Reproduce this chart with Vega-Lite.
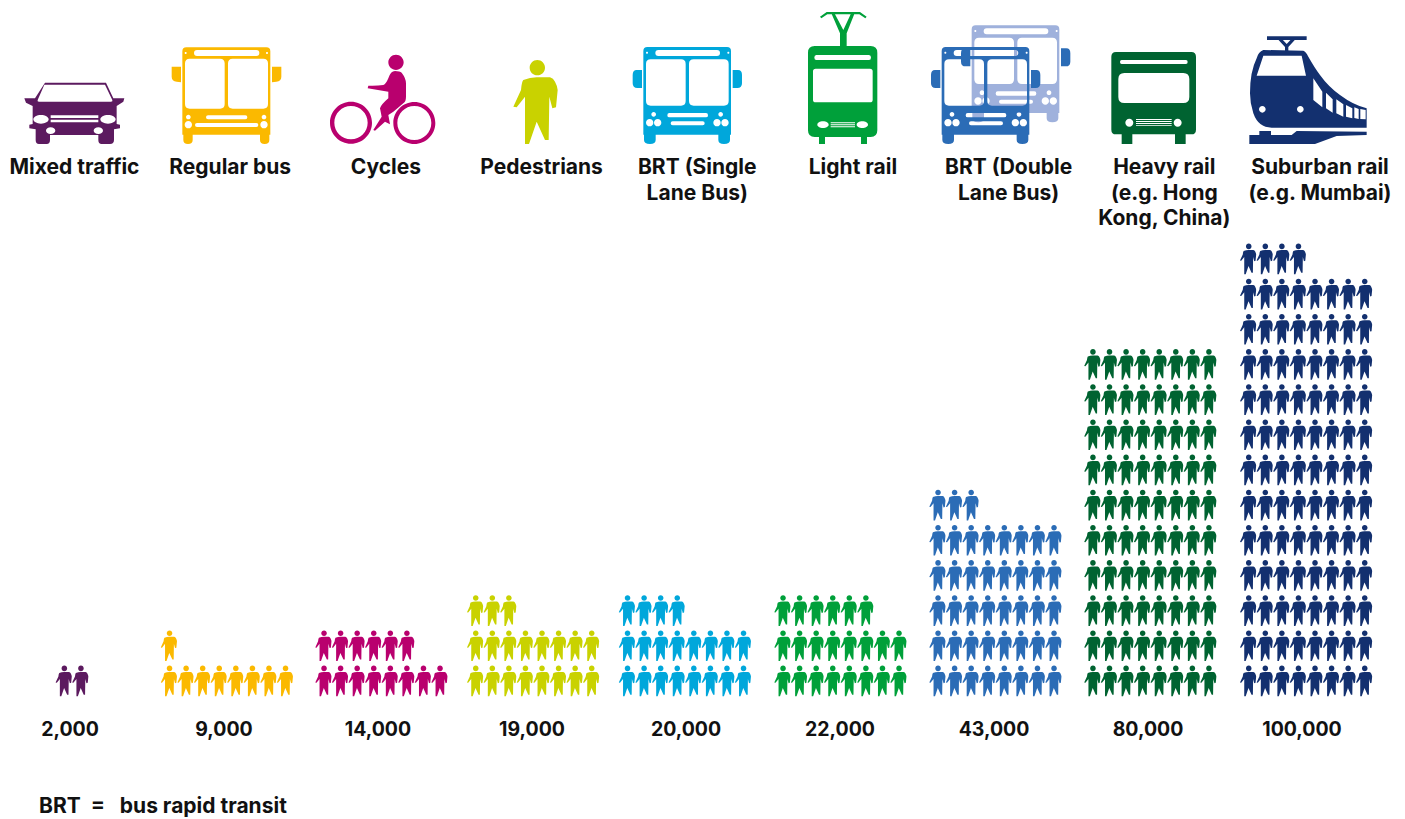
{"$schema":"https://vega.github.io/schema/vega-lite/v6.json","width":1405,"height":819,"autosize":{"type":"fit","contains":"padding"},"padding":0,"background":"white","config":{"view":{"stroke":null}},
"resolve":{"scale":{"x":"independent","color":"independent"}},
"layer":[
{"data":{"values":[
{"g":0,"s":3,"r":0},{"g":0,"s":4,"r":0},
{"g":1,"s":10,"r":0},{"g":1,"s":11,"r":0},{"g":1,"s":12,"r":0},{"g":1,"s":13,"r":0},{"g":1,"s":14,"r":0},{"g":1,"s":15,"r":0},{"g":1,"s":16,"r":0},{"g":1,"s":17,"r":0},{"g":1,"s":10,"r":1},
{"g":2,"s":20,"r":0},{"g":2,"s":21,"r":0},{"g":2,"s":22,"r":0},{"g":2,"s":23,"r":0},{"g":2,"s":24,"r":0},{"g":2,"s":25,"r":0},{"g":2,"s":26,"r":0},{"g":2,"s":27,"r":0},{"g":2,"s":20,"r":1},{"g":2,"s":21,"r":1},{"g":2,"s":22,"r":1},{"g":2,"s":23,"r":1},{"g":2,"s":24,"r":1},{"g":2,"s":25,"r":1},
{"g":3,"s":30,"r":0},{"g":3,"s":31,"r":0},{"g":3,"s":32,"r":0},{"g":3,"s":33,"r":0},{"g":3,"s":34,"r":0},{"g":3,"s":35,"r":0},{"g":3,"s":36,"r":0},{"g":3,"s":37,"r":0},{"g":3,"s":30,"r":1},{"g":3,"s":31,"r":1},{"g":3,"s":32,"r":1},{"g":3,"s":33,"r":1},{"g":3,"s":34,"r":1},{"g":3,"s":35,"r":1},{"g":3,"s":36,"r":1},{"g":3,"s":37,"r":1},{"g":3,"s":30,"r":2},{"g":3,"s":31,"r":2},{"g":3,"s":32,"r":2},
{"g":4,"s":40,"r":0},{"g":4,"s":41,"r":0},{"g":4,"s":42,"r":0},{"g":4,"s":43,"r":0},{"g":4,"s":44,"r":0},{"g":4,"s":45,"r":0},{"g":4,"s":46,"r":0},{"g":4,"s":47,"r":0},{"g":4,"s":40,"r":1},{"g":4,"s":41,"r":1},{"g":4,"s":42,"r":1},{"g":4,"s":43,"r":1},{"g":4,"s":44,"r":1},{"g":4,"s":45,"r":1},{"g":4,"s":46,"r":1},{"g":4,"s":47,"r":1},{"g":4,"s":40,"r":2},{"g":4,"s":41,"r":2},{"g":4,"s":42,"r":2},{"g":4,"s":43,"r":2},
{"g":5,"s":50,"r":0},{"g":5,"s":51,"r":0},{"g":5,"s":52,"r":0},{"g":5,"s":53,"r":0},{"g":5,"s":54,"r":0},{"g":5,"s":55,"r":0},{"g":5,"s":56,"r":0},{"g":5,"s":57,"r":0},{"g":5,"s":50,"r":1},{"g":5,"s":51,"r":1},{"g":5,"s":52,"r":1},{"g":5,"s":53,"r":1},{"g":5,"s":54,"r":1},{"g":5,"s":55,"r":1},{"g":5,"s":56,"r":1},{"g":5,"s":57,"r":1},{"g":5,"s":50,"r":2},{"g":5,"s":51,"r":2},{"g":5,"s":52,"r":2},{"g":5,"s":53,"r":2},{"g":5,"s":54,"r":2},{"g":5,"s":55,"r":2},
{"g":6,"s":60,"r":0},{"g":6,"s":61,"r":0},{"g":6,"s":62,"r":0},{"g":6,"s":63,"r":0},{"g":6,"s":64,"r":0},{"g":6,"s":65,"r":0},{"g":6,"s":66,"r":0},{"g":6,"s":67,"r":0},{"g":6,"s":60,"r":1},{"g":6,"s":61,"r":1},{"g":6,"s":62,"r":1},{"g":6,"s":63,"r":1},{"g":6,"s":64,"r":1},{"g":6,"s":65,"r":1},{"g":6,"s":66,"r":1},{"g":6,"s":67,"r":1},{"g":6,"s":60,"r":2},{"g":6,"s":61,"r":2},{"g":6,"s":62,"r":2},{"g":6,"s":63,"r":2},{"g":6,"s":64,"r":2},{"g":6,"s":65,"r":2},{"g":6,"s":66,"r":2},{"g":6,"s":67,"r":2},{"g":6,"s":60,"r":3},{"g":6,"s":61,"r":3},{"g":6,"s":62,"r":3},{"g":6,"s":63,"r":3},{"g":6,"s":64,"r":3},{"g":6,"s":65,"r":3},{"g":6,"s":66,"r":3},{"g":6,"s":67,"r":3},{"g":6,"s":60,"r":4},{"g":6,"s":61,"r":4},{"g":6,"s":62,"r":4},{"g":6,"s":63,"r":4},{"g":6,"s":64,"r":4},{"g":6,"s":65,"r":4},{"g":6,"s":66,"r":4},{"g":6,"s":67,"r":4},{"g":6,"s":60,"r":5},{"g":6,"s":61,"r":5},{"g":6,"s":62,"r":5},
{"g":7,"s":70,"r":0},{"g":7,"s":71,"r":0},{"g":7,"s":72,"r":0},{"g":7,"s":73,"r":0},{"g":7,"s":74,"r":0},{"g":7,"s":75,"r":0},{"g":7,"s":76,"r":0},{"g":7,"s":77,"r":0},{"g":7,"s":70,"r":1},{"g":7,"s":71,"r":1},{"g":7,"s":72,"r":1},{"g":7,"s":73,"r":1},{"g":7,"s":74,"r":1},{"g":7,"s":75,"r":1},{"g":7,"s":76,"r":1},{"g":7,"s":77,"r":1},{"g":7,"s":70,"r":2},{"g":7,"s":71,"r":2},{"g":7,"s":72,"r":2},{"g":7,"s":73,"r":2},{"g":7,"s":74,"r":2},{"g":7,"s":75,"r":2},{"g":7,"s":76,"r":2},{"g":7,"s":77,"r":2},{"g":7,"s":70,"r":3},{"g":7,"s":71,"r":3},{"g":7,"s":72,"r":3},{"g":7,"s":73,"r":3},{"g":7,"s":74,"r":3},{"g":7,"s":75,"r":3},{"g":7,"s":76,"r":3},{"g":7,"s":77,"r":3},{"g":7,"s":70,"r":4},{"g":7,"s":71,"r":4},{"g":7,"s":72,"r":4},{"g":7,"s":73,"r":4},{"g":7,"s":74,"r":4},{"g":7,"s":75,"r":4},{"g":7,"s":76,"r":4},{"g":7,"s":77,"r":4},{"g":7,"s":70,"r":5},{"g":7,"s":71,"r":5},{"g":7,"s":72,"r":5},{"g":7,"s":73,"r":5},{"g":7,"s":74,"r":5},{"g":7,"s":75,"r":5},{"g":7,"s":76,"r":5},{"g":7,"s":77,"r":5},{"g":7,"s":70,"r":6},{"g":7,"s":71,"r":6},{"g":7,"s":72,"r":6},{"g":7,"s":73,"r":6},{"g":7,"s":74,"r":6},{"g":7,"s":75,"r":6},{"g":7,"s":76,"r":6},{"g":7,"s":77,"r":6},{"g":7,"s":70,"r":7},{"g":7,"s":71,"r":7},{"g":7,"s":72,"r":7},{"g":7,"s":73,"r":7},{"g":7,"s":74,"r":7},{"g":7,"s":75,"r":7},{"g":7,"s":76,"r":7},{"g":7,"s":77,"r":7},{"g":7,"s":70,"r":8},{"g":7,"s":71,"r":8},{"g":7,"s":72,"r":8},{"g":7,"s":73,"r":8},{"g":7,"s":74,"r":8},{"g":7,"s":75,"r":8},{"g":7,"s":76,"r":8},{"g":7,"s":77,"r":8},{"g":7,"s":70,"r":9},{"g":7,"s":71,"r":9},{"g":7,"s":72,"r":9},{"g":7,"s":73,"r":9},{"g":7,"s":74,"r":9},{"g":7,"s":75,"r":9},{"g":7,"s":76,"r":9},{"g":7,"s":77,"r":9},
{"g":8,"s":80,"r":0},{"g":8,"s":81,"r":0},{"g":8,"s":82,"r":0},{"g":8,"s":83,"r":0},{"g":8,"s":84,"r":0},{"g":8,"s":85,"r":0},{"g":8,"s":86,"r":0},{"g":8,"s":87,"r":0},{"g":8,"s":80,"r":1},{"g":8,"s":81,"r":1},{"g":8,"s":82,"r":1},{"g":8,"s":83,"r":1},{"g":8,"s":84,"r":1},{"g":8,"s":85,"r":1},{"g":8,"s":86,"r":1},{"g":8,"s":87,"r":1},{"g":8,"s":80,"r":2},{"g":8,"s":81,"r":2},{"g":8,"s":82,"r":2},{"g":8,"s":83,"r":2},{"g":8,"s":84,"r":2},{"g":8,"s":85,"r":2},{"g":8,"s":86,"r":2},{"g":8,"s":87,"r":2},{"g":8,"s":80,"r":3},{"g":8,"s":81,"r":3},{"g":8,"s":82,"r":3},{"g":8,"s":83,"r":3},{"g":8,"s":84,"r":3},{"g":8,"s":85,"r":3},{"g":8,"s":86,"r":3},{"g":8,"s":87,"r":3},{"g":8,"s":80,"r":4},{"g":8,"s":81,"r":4},{"g":8,"s":82,"r":4},{"g":8,"s":83,"r":4},{"g":8,"s":84,"r":4},{"g":8,"s":85,"r":4},{"g":8,"s":86,"r":4},{"g":8,"s":87,"r":4},{"g":8,"s":80,"r":5},{"g":8,"s":81,"r":5},{"g":8,"s":82,"r":5},{"g":8,"s":83,"r":5},{"g":8,"s":84,"r":5},{"g":8,"s":85,"r":5},{"g":8,"s":86,"r":5},{"g":8,"s":87,"r":5},{"g":8,"s":80,"r":6},{"g":8,"s":81,"r":6},{"g":8,"s":82,"r":6},{"g":8,"s":83,"r":6},{"g":8,"s":84,"r":6},{"g":8,"s":85,"r":6},{"g":8,"s":86,"r":6},{"g":8,"s":87,"r":6},{"g":8,"s":80,"r":7},{"g":8,"s":81,"r":7},{"g":8,"s":82,"r":7},{"g":8,"s":83,"r":7},{"g":8,"s":84,"r":7},{"g":8,"s":85,"r":7},{"g":8,"s":86,"r":7},{"g":8,"s":87,"r":7},{"g":8,"s":80,"r":8},{"g":8,"s":81,"r":8},{"g":8,"s":82,"r":8},{"g":8,"s":83,"r":8},{"g":8,"s":84,"r":8},{"g":8,"s":85,"r":8},{"g":8,"s":86,"r":8},{"g":8,"s":87,"r":8},{"g":8,"s":80,"r":9},{"g":8,"s":81,"r":9},{"g":8,"s":82,"r":9},{"g":8,"s":83,"r":9},{"g":8,"s":84,"r":9},{"g":8,"s":85,"r":9},{"g":8,"s":86,"r":9},{"g":8,"s":87,"r":9},{"g":8,"s":80,"r":10},{"g":8,"s":81,"r":10},{"g":8,"s":82,"r":10},{"g":8,"s":83,"r":10},{"g":8,"s":84,"r":10},{"g":8,"s":85,"r":10},{"g":8,"s":86,"r":10},{"g":8,"s":87,"r":10},{"g":8,"s":80,"r":11},{"g":8,"s":81,"r":11},{"g":8,"s":82,"r":11},{"g":8,"s":83,"r":11},{"g":8,"s":84,"r":11},{"g":8,"s":85,"r":11},{"g":8,"s":86,"r":11},{"g":8,"s":87,"r":11},{"g":8,"s":80,"r":12},{"g":8,"s":81,"r":12},{"g":8,"s":82,"r":12},{"g":8,"s":83,"r":12}
]},
"mark":{"type":"point","filled":true,"opacity":1,"strokeWidth":0,"size":0.0592,"shape":"M-40,-190Q-20,-197 0,-198L40,-198Q50,-195 55,-185Q63,-170 63,-160L58,-108L47,-105L38,-140L36,-10L25,-10L0,-65L-23,2L-35,2L-35,-140L-60,-108L-70,-110L-47,-160Q-45,-185 -40,-190ZM-21,-227A23,23 0 1,1 25,-227A23,23 0 1,1 -21,-227Z"},
"encoding":{
"x":{"field":"s","type":"quantitative","axis":null,"scale":{"domain":[0,7,10,17,20,27,30,37,40,47,50,57,60,67,70,77,80,87],"range":[14.4,130.4,169.3,285.3,323.8,439.8,475.5,591.5,627.3,743.3,782.8,898.8,937.8,1053.8,1092.7,1208.7,1248.5,1364.5]}},
"y":{"field":"r","type":"quantitative","axis":null,"scale":{"domain":[0,12],"range":[696,274]}},
"color":{"field":"g","type":"ordinal","legend":null,"scale":{"domain":[0,1,2,3,4,5,6,7,8],"range":["#5C1A5F","#FBB900","#B9006E","#C9D200","#00A7DB","#00A03A","#2B6CB6","#006331","#13306F"]}}
}},
{"data":{"values":[{"g":0,"icon":"car"},{"g":1,"icon":"bus"},{"g":2,"icon":"cycle"},{"g":3,"icon":"walk"},{"g":4,"icon":"brt"},{"g":5,"icon":"tram"},{"g":6,"icon":"backbody"},{"g":6,"icon":"backmirrors"},{"g":6,"icon":"front"},{"g":7,"icon":"metro"},{"g":8,"icon":"train"}]},
"mark":{"type":"point","filled":true,"opacity":1,"strokeWidth":0,"size":0.4444},
"encoding":{
"x":{"field":"g","type":"quantitative","axis":null,"scale":{"domain":[0,1,2,3,4,5,6,7,8],"range":[73.33,226.67,383.33,536.67,686.67,843.33,985,1153.33,1303.33]}},
"y":{"datum":15.716,"type":"quantitative"},
"color":{"field":"icon","type":"nominal","legend":null,"scale":{"domain":["car","bus","cycle","walk","brt","tram","backbody","backmirrors","front","metro","train"],"range":["#5C1A5F","#FBB900","#B9006E","#C9D200","#00A7DB","#00A03A","#9FB1DC","#2B6CB6","#2B6CB6","#006331","#13306F"]}},
"shape":{"field":"icon","type":"nominal","legend":null,"scale":{"domain":["car","bus","cycle","walk","brt","tram","backbody","backmirrors","front","metro","train"],"range":[
"M-85,-182L98,-182L120,-135L153,-135L150,-125L130,-112L130,-58L140,-56L140,-45L122,-42L122,-10Q122,2 110,2L85,2Q75,2 75,-10L75,-25L-70,-25L-70,-10Q-70,2 -80,2L-103,2Q-113,2 -113,-10L-113,-42L-132,-45L-132,-56L-122,-58L-122,-112L-142,-122L-147,-135L-115,-135ZM-87,-176L-107,-130Q-109,-125 -103,-125L113,-125Q119,-125 117,-130L95,-176ZM-120,-72A23,13 0 1,0 -74,-72A23,13 0 1,0 -120,-72ZM81,-72A23,13 0 1,0 127,-72A23,13 0 1,0 81,-72ZM-82,-38A14,10 0 1,0 -54,-38A14,10 0 1,0 -82,-38ZM61,-38A14,10 0 1,0 89,-38A14,10 0 1,0 61,-38ZM-68,-84L-68,-76L75,-76L75,-84ZM-68,-71L-68,-63L75,-63L75,-71Z",
"M-121,-288L119,-288Q131,-288 131,-276L131,-26L128,-26L128,-10Q128,2 114,2Q100,2 100,-10L100,-26L-102,-26L-102,-10Q-102,2 -116,2Q-130,2 -130,-10L-130,-26L-133,-26L-133,-276Q-133,-288 -121,-288ZM-89,-280Q-98,-280 -98,-271Q-98,-262 -89,-262L89,-262Q98,-262 98,-271Q98,-280 89,-280ZM-126,-271A3,3 0 1,0 -120,-271A3,3 0 1,0 -126,-271ZM118,-271A3,3 0 1,0 124,-271A3,3 0 1,0 118,-271ZM-111,-254Q-125,-254 -125,-240L-125,-118Q-125,-104 -111,-104L-20,-104Q-6,-104 -6,-118L-6,-240Q-6,-254 -20,-254ZM18,-254Q4,-254 4,-240L4,-118Q4,-104 18,-104L110,-104Q124,-104 124,-118L124,-240Q124,-254 110,-254ZM-122,-79A7,7 0 1,0 -108,-79A7,7 0 1,0 -122,-79ZM105,-79A7,7 0 1,0 119,-79A7,7 0 1,0 105,-79ZM-126,-56A11,11 0 1,0 -104,-56A11,11 0 1,0 -126,-56ZM101,-56A11,11 0 1,0 123,-56A11,11 0 1,0 101,-56ZM-56,-84Q-62,-84 -62,-78Q-62,-72 -56,-72L56,-72Q62,-72 62,-78Q62,-84 56,-84ZM-89,-61Q-95,-61 -95,-55Q-95,-49 -89,-49L89,-49Q95,-49 95,-55Q95,-61 89,-61ZM-165,-230L-137,-230L-137,-183L-150,-185Q-165,-187 -165,-200ZM136,-230L164,-230L164,-200Q164,-187 149,-185L136,-183Z",
"M35,-217Q50,-217 55,-212Q68,-195 68,-180L68,-140Q68,-125 60,-120L30,-95L15,-85L20,-57L5,-65L-25,-38L-30,-40L-5,-80L-10,-105Q-8,-115 15,-135L15,-155L-47,-165L-45,-173Q-20,-172 0,-175Q8,-178 15,-195Q22,-217 35,-217ZM-160,-62A63,63 0 1,1 -34,-62A63,63 0 1,1 -160,-62ZM-147,-62A50,50 0 1,0 -47,-62A50,50 0 1,0 -147,-62ZM30,-61A63,63 0 1,1 156,-61A63,63 0 1,1 30,-61ZM42,-61A51,51 0 1,0 144,-61A51,51 0 1,0 42,-61ZM15,-243A23,23 0 1,1 61,-243A23,23 0 1,1 15,-243Z",
"M-40,-190Q-20,-197 0,-198L40,-198Q50,-195 55,-185Q63,-170 63,-160L58,-108L47,-105L38,-140L36,-10L25,-10L0,-65L-23,2L-35,2L-35,-140L-60,-108L-70,-110L-47,-160Q-45,-185 -40,-190ZM-21,-227A23,23 0 1,1 25,-227A23,23 0 1,1 -21,-227Z",
"M-118,-289L121,-289Q133,-289 133,-277L133,-26L130,-26L130,-10Q130,2 112,2Q95,2 95,-10L95,-26L-93,-26L-93,-10Q-93,2 -110,2Q-128,2 -128,-10L-128,-26L-130,-26L-130,-277Q-130,-289 -118,-289ZM-85,-280Q-94,-280 -94,-271Q-94,-262 -85,-262L91,-262Q100,-262 100,-271Q100,-280 91,-280ZM-122,-272A3,3 0 1,0 -116,-272A3,3 0 1,0 -122,-272ZM122,-272A3,3 0 1,0 128,-272A3,3 0 1,0 122,-272ZM-108,-252Q-122,-252 -122,-238L-122,-127Q-122,-113 -108,-113L-17,-113Q-3,-113 -3,-127L-3,-238Q-3,-252 -17,-252ZM21,-252Q7,-252 7,-238L7,-127Q7,-113 21,-113L112,-113Q126,-113 126,-127L126,-238Q126,-252 112,-252ZM-106,-87A7,7 0 1,0 -92,-87A7,7 0 1,0 -106,-87ZM95,-87A7,7 0 1,0 109,-87A7,7 0 1,0 95,-87ZM-122,-62A11,11 0 1,0 -100,-62A11,11 0 1,0 -122,-62ZM-98,-62A11,11 0 1,0 -76,-62A11,11 0 1,0 -98,-62ZM80,-62A11,11 0 1,0 102,-62A11,11 0 1,0 80,-62ZM104,-62A11,11 0 1,0 126,-62A11,11 0 1,0 104,-62ZM-52,-91Q-58,-91 -58,-84.5Q-58,-78 -52,-78L58,-78Q64,-78 64,-84.5Q64,-91 58,-91ZM-42,-66Q-48,-66 -48,-60Q-48,-54 -42,-54L48,-54Q54,-54 54,-60Q54,-66 48,-66ZM-150,-220L-134,-220L-134,-166L-148,-166Q-162,-166 -162,-180L-162,-205Q-162,-220 -150,-220ZM138,-220L154,-220Q166,-220 166,-205L166,-180Q166,-166 152,-166L138,-166Z",
"M-86,-292L82,-292Q102,-292 102,-272L102,-39Q102,-19 82,-19L71,-19L71,2L53,2L53,-19L-55,-19L-55,2L-73,2L-73,-19L-86,-19Q-106,-19 -106,-39L-106,-272Q-106,-292 -86,-292ZM-81,-265Q-87,-265 -87,-257.5Q-87,-250 -81,-250L77,-250Q83,-250 83,-257.5Q83,-265 77,-265ZM-83,-224Q-91,-224 -91,-216L-91,-131Q-91,-123 -83,-123L80,-123Q88,-123 88,-131L88,-216Q88,-224 80,-224ZM-78,-56A17,10 0 1,0 -44,-56A17,10 0 1,0 -78,-56ZM40,-56A17,10 0 1,0 74,-56A17,10 0 1,0 40,-56ZM-38,-63L-38,-60L35,-60L35,-63ZM-38,-57L-38,-54L35,-54L35,-57ZM-38,-51L-38,-48L35,-48L35,-51ZM-70,-380L-50,-394L50,-394L70,-380L66,-375L48,-387L-48,-387L-66,-375ZM-35,-388L33,-388L10,-330L10,-290L-10,-290L-10,-330ZM-25,-387L0,-340L22,-387Z",
"M-28,-354L211,-354Q223,-354 223,-342L223,-91L220,-91L220,-75Q220,-63 202,-63Q185,-63 185,-75L185,-91L-3,-91L-3,-75Q-3,-63 -20,-63Q-38,-63 -38,-75L-38,-91L-40,-91L-40,-342Q-40,-354 -28,-354ZM5,-345Q-4,-345 -4,-336Q-4,-327 5,-327L181,-327Q190,-327 190,-336Q190,-345 181,-345ZM-32,-337A3,3 0 1,0 -26,-337A3,3 0 1,0 -32,-337ZM212,-337A3,3 0 1,0 218,-337A3,3 0 1,0 212,-337ZM-18,-317Q-32,-317 -32,-303L-32,-192Q-32,-178 -18,-178L73,-178Q87,-178 87,-192L87,-303Q87,-317 73,-317ZM111,-317Q97,-317 97,-303L97,-192Q97,-178 111,-178L202,-178Q216,-178 216,-192L216,-303Q216,-317 202,-317ZM-16,-152A7,7 0 1,0 -2,-152A7,7 0 1,0 -16,-152ZM185,-152A7,7 0 1,0 199,-152A7,7 0 1,0 185,-152ZM-32,-127A11,11 0 1,0 -10,-127A11,11 0 1,0 -32,-127ZM-8,-127A11,11 0 1,0 14,-127A11,11 0 1,0 -8,-127ZM170,-127A11,11 0 1,0 192,-127A11,11 0 1,0 170,-127ZM194,-127A11,11 0 1,0 216,-127A11,11 0 1,0 194,-127ZM38,-156Q32,-156 32,-149.5Q32,-143 38,-143L148,-143Q154,-143 154,-149.5Q154,-156 148,-156ZM48,-131Q42,-131 42,-125Q42,-119 48,-119L138,-119Q144,-119 144,-125Q144,-131 138,-131Z",
"M-60,-285L-44,-285L-44,-231L-58,-231Q-72,-231 -72,-245L-72,-270Q-72,-285 -60,-285ZM228,-285L244,-285Q256,-285 256,-270L256,-245Q256,-231 242,-231L228,-231Z",
"M-118,-289L121,-289Q133,-289 133,-277L133,-26L130,-26L130,-10Q130,2 112,2Q95,2 95,-10L95,-26L-93,-26L-93,-10Q-93,2 -110,2Q-128,2 -128,-10L-128,-26L-130,-26L-130,-277Q-130,-289 -118,-289ZM-85,-280Q-94,-280 -94,-271Q-94,-262 -85,-262L91,-262Q100,-262 100,-271Q100,-280 91,-280ZM-122,-272A3,3 0 1,0 -116,-272A3,3 0 1,0 -122,-272ZM122,-272A3,3 0 1,0 128,-272A3,3 0 1,0 122,-272ZM-108,-252Q-122,-252 -122,-238L-122,-127Q-122,-113 -108,-113L-17,-113Q-3,-113 -3,-127L-3,-238Q-3,-252 -17,-252ZM21,-252Q7,-252 7,-238L7,-127Q7,-113 21,-113L112,-113Q126,-113 126,-127L126,-238Q126,-252 112,-252ZM-106,-87A7,7 0 1,0 -92,-87A7,7 0 1,0 -106,-87ZM95,-87A7,7 0 1,0 109,-87A7,7 0 1,0 95,-87ZM-122,-62A11,11 0 1,0 -100,-62A11,11 0 1,0 -122,-62ZM-98,-62A11,11 0 1,0 -76,-62A11,11 0 1,0 -98,-62ZM80,-62A11,11 0 1,0 102,-62A11,11 0 1,0 80,-62ZM104,-62A11,11 0 1,0 126,-62A11,11 0 1,0 104,-62ZM-52,-91Q-58,-91 -58,-84.5Q-58,-78 -52,-78L58,-78Q64,-78 64,-84.5Q64,-91 58,-91ZM-42,-66Q-48,-66 -48,-60Q-48,-54 -42,-54L48,-54Q54,-54 54,-60Q54,-66 48,-66ZM-150,-220L-134,-220L-134,-166L-148,-166Q-162,-166 -162,-180L-162,-205Q-162,-220 -150,-220ZM138,-220L154,-220Q166,-220 166,-205L166,-180Q166,-166 152,-166L138,-166Z",
"M-112,-274L114,-274Q128,-274 128,-260L128,-41Q128,-27 114,-27L97,-27L97,2L65,2L65,-27L-63,-27L-63,2L-95,2L-95,-27L-112,-27Q-126,-27 -126,-41L-126,-260Q-126,-274 -112,-274ZM-95,-250Q-100,-250 -100,-244Q-100,-238 -95,-238L98,-238Q103,-238 103,-244Q103,-250 98,-250ZM-87,-211Q-105,-211 -105,-193L-105,-139Q-105,-121 -87,-121L90,-121Q108,-121 108,-139L108,-193Q108,-211 90,-211ZM-84,-62A12,12 0 1,0 -60,-62A12,12 0 1,0 -84,-62ZM61,-62A12,12 0 1,0 85,-62A12,12 0 1,0 61,-62ZM-52,-73L-52,-70L55,-70L55,-73ZM-52,-67L-52,-64L55,-64L55,-67ZM-52,-61L-52,-58L55,-58L55,-61ZM-52,-55L-52,-53L55,-53L55,-55Z",
"M-120,-280L0,-278Q8,-275 15,-260Q35,-225 50,-205Q75,-170 110,-145Q150,-115 190,-105L190,-47L-95,-47Q-135,-47 -150,-90Q-160,-120 -160,-150Q-160,-215 -140,-255Q-135,-275 -120,-280ZM-120,-263L-140,-203L8,-203L-5,-263ZM30,-195L30,-130L57,-108L57,-155ZM68,-152L68,-105L88,-92L88,-132ZM99,-132L99,-90L120,-80L120,-117ZM128,-115L128,-80L147,-75L147,-105ZM153,-108L153,-76L166,-73L166,-103ZM171,-103L171,-73L187,-72L187,-100ZM-133,-102A10,10 0 1,0 -113,-102A10,10 0 1,0 -133,-102ZM-19,-102A10,10 0 1,0 1,-102A10,10 0 1,0 -19,-102ZM-109,-321L10,-321L10,-310L-109,-310ZM-75,-311L-62,-311L-50,-298L-38,-311L-25,-311L-45,-289L-45,-278L-55,-278L-55,-289ZM-162,-25L-132,-25L-132,-37L-97,-37L-97,-25L-35,-25L-20,-37L190,-35L190,-25L100,-22L35,2L-162,2Z"
]}}
}},
{"data":{"values":[{"mode":"Mixed traffic"},{"mode":"Regular bus"},{"mode":"Cycles"},{"mode":"Pedestrians"},{"mode":"BRT (Single\nLane Bus)"},{"mode":"Light rail"},{"mode":"BRT (Double\nLane Bus)"},{"mode":"Heavy rail\n(e.g. Hong\nKong, China)"},{"mode":"Suburban rail\n(e.g. Mumbai)"}]},
"mark":{"type":"text","font":"Inter","fontWeight":"bold","fontSize":21,"color":"#111111","align":"center","baseline":"alphabetic","lineBreak":"\n","lineHeight":25.4},
"encoding":{
"x":{"field":"mode","type":"nominal","axis":null,"sort":null,"scale":{"type":"point","padding":0,"range":[74.5,1320]}},
"y":{"datum":14.83,"type":"quantitative"},
"text":{"field":"mode","type":"nominal"}
}},
{"data":{"values":[{"mode":"Mixed traffic","riders":2000},{"mode":"Regular bus","riders":9000},{"mode":"Cycles","riders":14000},{"mode":"Pedestrians","riders":19000},{"mode":"BRT (Single Lane Bus)","riders":20000},{"mode":"Light rail","riders":22000},{"mode":"BRT (Double Lane Bus)","riders":43000},{"mode":"Heavy rail","riders":80000},{"mode":"Suburban rail","riders":100000}]},
"mark":{"type":"text","font":"Inter","fontWeight":"bold","fontSize":19.5,"color":"#111111","align":"center","baseline":"alphabetic"},
"encoding":{
"x":{"field":"mode","type":"nominal","axis":null,"sort":null,"scale":{"type":"point","padding":0,"range":[70,1302]}},
"y":{"datum":-1.1375,"type":"quantitative"},
"text":{"field":"riders","type":"quantitative","format":","}
}},
{"data":{"values":[{"note":"BRT\u00a0\u00a0=\u00a0\u00a0\u00a0bus rapid transit"}]},
"mark":{"type":"text","font":"Inter","fontWeight":"bold","fontSize":21,"color":"#111111","align":"left","baseline":"alphabetic"},
"encoding":{
"x":{"datum":39,"type":"quantitative","axis":null,"scale":{"domain":[0,1405],"range":[0,1405]}},
"y":{"datum":-3.327,"type":"quantitative"},
"text":{"field":"note","type":"nominal"}
}}
]}
